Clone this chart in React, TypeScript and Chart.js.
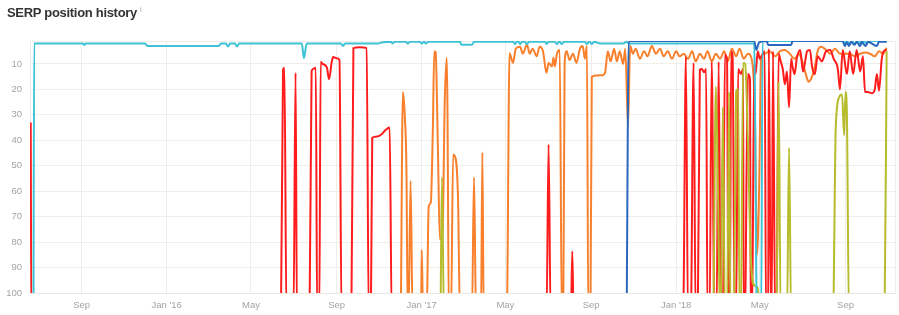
import React, { useEffect, useRef } from "react";
import { Chart, registerables } from "chart.js";

Chart.register(...registerables);

// x values: days since 2015-06-20; y values: SERP position (110 = not ranked / off chart)
const START = Date.UTC(2015, 5, 20);
const dayOf = (y: number, m: number, d: number) => Math.round((Date.UTC(y, m - 1, d) - START) / 86400000);
const N = 110;

const monthTicks: [number, number][] = [
  [2015, 9], [2016, 1], [2016, 5], [2016, 9], [2017, 1],
  [2017, 5], [2017, 9], [2018, 1], [2018, 5], [2018, 9],
];
const MONTHS = ["Jan", "Feb", "Mar", "Apr", "May", "Jun", "Jul", "Aug", "Sep", "Oct", "Nov", "Dec"];
const yTicks = [1, 10, 20, 30, 40, 50, 60, 70, 80, 90, 100];
const X_MIN = -1;
const X_MAX = 1240;

const cyanSeries: [number, number][] = [
  [4, N], [5, 2], [75, 2], [77, 2.6], [79, 2], [164, 2], [168, 3], [270, 3], [273, 2], [280, 2], [283, 3.2],
  [286, 2], [293, 2], [296, 3.2], [299, 2], [389, 2], [392, 7.7], [396, 2], [445, 2], [448, 3], [451, 2],
  [498, 2], [505, 1.5], [517, 1.3], [519, 2], [522, 1.3], [538, 1.3], [541, 2], [544, 1.3], [558, 1.3],
  [561, 2], [564, 1.3], [567, 2], [570, 1.3], [616, 1.3], [618, 2.5], [633, 2.5], [636, 1.3], [692, 1.3],
  [695, 2.2], [697, 1.3], [700, 1.3], [702, 2.2], [705, 1.3], [709, 1.3], [712, 2.2], [715, 1.3], [738, 1.3],
  [740, 2.2], [743, 1.3], [752, 1.3], [755, 2.2], [758, 1.3], [759, 1.3], [762, 2.2], [765, 1.3], [795, 1.3],
  [798, 2.2], [801, 1.3], [802, 1.3], [805, 2.2], [808, 1.3], [817, 2], [850, 2], [855, 1.3], [858, 2],
  [1038, 2], [1042, N], [1048, N], [1050, 1], [1165, 1], [1168, 2], [1171, 1], [1175, 2.2], [1178, 1],
  [1182, 2], [1187, 1], [1192, 2.2], [1195, 1], [1200, 2], [1203, 1], [1228, 1],
];

const blueSeries: [number, number][] = [
  [855, N], [858, 1], [1038, 1], [1041, 4.5], [1045, 1.5], [1056, 1], [1058, 2.6], [1091, 2.6], [1093, 1],
  [1165, 1], [1168, 3], [1171, 1.5], [1174, 3], [1177, 1.3], [1182, 2.5], [1185, 1.3], [1190, 3], [1192, 1.3],
  [1198, 3], [1201, 1.3], [1214, 3], [1217, 1.3], [1228, 1.3],
];

const redSeries: [number, number][] = [
  [0, 33], [1, N],
  [359, N], [362, 12.3], [364, 11.5], [367, N],
  [377, N], [380, 13.5], [382, N],
  [400, N], [403, 13], [405, 12], [409, 11.5], [411, N],
  [414, N], [416, 9.2], [419, 10], [425, 11.5], [428, 16], [432, 9], [434, 7.3], [439, 7.8], [443, 8.5], [446, N],
  [460, N], [463, 3.8], [472, 3.5], [482, 3.8], [485, N],
  [488, N], [490, 39], [497, 38.5], [504, 37.5], [509, 36], [515, 35], [518, N],
  [740, N], [743, 41.7], [746, N],
  [775, N], [777, 83.6], [779, N],
  [936, N], [940, 7.3], [943, N], [947, N], [951, 9.6], [954, N],
  [957, N], [960, 12.3], [963, 12], [966, 13.3], [969, 12], [971, N],
  [974, N], [977, 9.2], [981, N], [984, N], [987, 9.2], [990, N],
  [993, N], [996, 6.5], [999, 8], [1001, N], [1003, N], [1005, 5], [1007, 7], [1010, N],
  [1012, N], [1015, 12], [1019, 14], [1022, 12], [1023, N], [1025, N], [1027, 54], [1029, 14], [1032, 16], [1033, N],
  [1035, N], [1038, 10], [1040, 14], [1043, 5], [1046, 8], [1050, 6], [1053, 5], [1055, N],
  [1058, N], [1059, 4], [1062, N], [1063, N], [1065, 5], [1068, N],
  [1070, N], [1073, 6], [1076, 9], [1079, 12], [1082, 18], [1085, 13], [1088, 27], [1091, 8], [1093, 11],
  [1096, 14], [1099, 8], [1104, 4.5], [1108, 13], [1114, 5], [1118, 4.5], [1121, 11], [1125, 14], [1129, 7],
  [1135, 9], [1141, 5], [1147, 4.5], [1152, 8], [1158, 12], [1161, 20], [1165, 4.5], [1171, 14], [1175, 5],
  [1180, 14], [1185, 4.5], [1190, 13], [1194, 7], [1197, 21], [1201, 21], [1207, 21.5], [1211, 20], [1214, 14],
  [1217, 20.5], [1221, 8], [1224, 5], [1228, 4.5],
];

const oliveSeries: [number, number][] = [
  [588, N], [590, 54.6], [593, N],
  [979, N], [983, 19], [986, 60], [989, N],
  [990, N], [993, 27], [996, N],
  [999, N], [1002, 21], [1004, N],
  [1009, N], [1012, 21], [1015, 20], [1017, N],
  [1019, N], [1022, 9.6], [1025, 10], [1029, 40], [1033, 85], [1038, 97], [1043, 98], [1046, N],
  [1070, N], [1073, 17], [1076, N],
  [1085, N], [1088, 43], [1091, N],
  [1151, N], [1155, 35], [1160, 23], [1164, 22], [1167, 38], [1169, 21], [1171, 30], [1174, N],
  [1225, N], [1228, 5],
];

const orangeSeries: [number, number][] = [
  [531, N], [534, 21], [537, 32], [539, 50], [541, N],
  [542, N], [545, 56], [548, N],
  [560, N], [561, 83], [563, N],
  [568, N], [571, 66], [574, 64.5], [577, 35], [579, 5], [581, 5.5], [584, 40], [587, 79], [591, 75], [594, 25],
  [597, 7.6], [598, 30], [600, N],
  [603, N], [606, 45.6], [608, 46], [613, 62], [616, N],
  [633, N], [636, 54.6], [639, N],
  [646, N], [648, 44.8], [650, N],
  [683, N], [687, 5.8], [692, 9.6], [696, 4], [702, 3.3], [706, 6], [712, 2.5], [716, 6], [720, 4], [726, 7],
  [730, 3.3], [735, 5], [740, 13.5], [743, 9.6], [748, 11], [750, 7.5], [752, 11], [755, 6], [759, 4.5], [762, N],
  [764, N], [766, 9.6], [769, 5], [773, 8.5], [778, 6], [783, 9.6], [788, 4], [792, 3], [795, 8], [798, 3], [800, N],
  [803, N], [805, 15], [819, 14.5], [824, 13.5], [828, 5], [832, 9], [837, 4], [841, 9], [845, 5], [850, 10],
  [853, 4], [857, 35], [860, 3], [864, 6], [868, 4], [874, 8], [880, 5], [885, 7], [891, 3], [897, 6], [903, 4],
  [908, 7], [914, 5], [920, 8], [926, 5], [931, 7], [937, 6], [943, 8], [949, 5], [954, 9], [960, 6], [966, 8],
  [971, 5], [977, 9], [983, 6], [989, 8], [995, 5], [1000, 9], [1006, 4], [1012, 7], [1017, 4], [1023, 8],
  [1029, 6], [1035, 9], [1039, 30], [1042, 85], [1045, 60], [1048, 8], [1053, 6], [1060, 5], [1068, 7], [1075, 5],
  [1082, 4.5], [1089, 6], [1096, 8], [1102, 6], [1108, 10], [1112, 14], [1116, 17], [1121, 15], [1125, 11],
  [1129, 5], [1134, 3.3], [1139, 4], [1147, 6], [1154, 4], [1161, 6], [1168, 6], [1175, 6], [1182, 7], [1190, 6],
  [1197, 5.5], [1204, 6], [1211, 7], [1217, 5], [1223, 6], [1228, 3.7],
];

const seriesList = [
  { data: blueSeries, color: "#2a68bf" },
  { data: cyanSeries, color: "#3ec3d6" },
  { data: oliveSeries, color: "#b7bc2d" },
  { data: redSeries, color: "#ff1c1c" },
  { data: orangeSeries, color: "#f8802c" },
];

const FONT = '"Liberation Sans", Arial, Helvetica, sans-serif';

export default function App() {
  const ref = useRef<HTMLCanvasElement | null>(null);

  useEffect(() => {
    if (!ref.current) return;
    const xTickValues = [X_MIN, ...monthTicks.map(([y, m]) => dayOf(y, m, 1)), X_MAX];
    const labelFor = new Map<number, string>();
    monthTicks.forEach(([y, m]) => {
      labelFor.set(dayOf(y, m, 1), m === 1 ? `Jan '${String(y).slice(2)}` : MONTHS[m - 1]);
    });
    const chart = new Chart(ref.current, {
      type: "line",
      data: {
        datasets: seriesList.map((s) => ({
          data: s.data.map(([x, y]) => ({ x, y })),
          borderColor: s.color,
          backgroundColor: s.color,
          borderWidth: 2,
          pointRadius: 0,
          fill: false,
          cubicInterpolationMode: "monotone" as const,
        })),
      },
      options: {
        responsive: false,
        animation: false,
        layout: { padding: { top: 41, right: 4, left: 0, bottom: 0 } },
        plugins: { legend: { display: false }, tooltip: { enabled: false }, title: { display: false } },
        scales: {
          x: {
            type: "linear",
            min: X_MIN,
            max: X_MAX,
            afterBuildTicks: (s: any) => {
              s.ticks = xTickValues.map((v) => ({ value: v }));
            },
            afterFit: (s: any) => {
              s.height = 22;
            },
            ticks: {
              autoSkip: false,
              maxRotation: 0,
              padding: 0,
              color: "#a3a3a3",
              font: { size: 9.5, family: FONT },
              callback: (v: any) => labelFor.get(Number(v)) ?? "",
            },
            grid: { color: "#efeee9", drawTicks: true, tickLength: 7, tickColor: "rgba(0,0,0,0)", lineWidth: 1 },
            border: { color: "#e8e7e2" },
          },
          y: {
            reverse: true,
            min: 1,
            max: 100,
            afterBuildTicks: (s: any) => {
              s.ticks = yTicks.map((v) => ({ value: v }));
            },
            afterFit: (s: any) => {
              s.width = 30;
            },
            ticks: {
              padding: 8,
              color: "#a3a3a3",
              font: { size: 9.5, family: FONT },
              callback: (v: any) => (Number(v) === 1 ? "" : String(v)),
            },
            grid: { color: "#efeee9", drawTicks: false, lineWidth: 1 },
            border: { color: "#e8e7e2" },
          },
        },
      },
    });
    return () => chart.destroy();
  }, []);

  return (
    <div style={{ position: "absolute", left: 0, top: 0, width: 899, height: 315, background: "#fff" }}>
      <canvas ref={ref} width={899} height={315} style={{ position: "absolute", left: 0, top: 0 }} />
      <div
        style={{
          position: "absolute",
          left: 7,
          top: 5,
          font: `bold 13px ${FONT}`,
          letterSpacing: "-0.3px",
          lineHeight: "15px",
          color: "#333",
          whiteSpace: "nowrap",
        }}
      >
        SERP position history
        <span style={{ fontWeight: "normal", fontSize: 8, color: "#aaa", marginLeft: 3, position: "relative", top: -5 }}>i</span>
      </div>
    </div>
  );
}
